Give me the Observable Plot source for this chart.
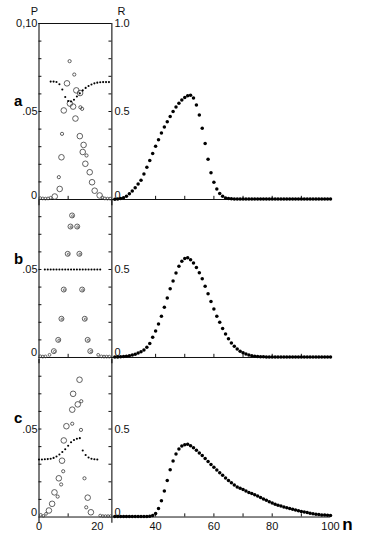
<!DOCTYPE html>
<html><head><meta charset="utf-8">
<script src="https://cdn.jsdelivr.net/npm/d3@7"></script>
<script src="https://cdn.jsdelivr.net/npm/@observablehq/plot@0.6"></script>
<style>
html,body{margin:0;padding:0;background:#fff;}
#chart{position:relative;width:370px;height:539px;overflow:hidden;font-family:"Liberation Sans",Arial,sans-serif;}
</style></head><body><div id="chart"></div>
<script>
// ---------- data ----------
// n values for the R(n) curves (right panels)
const nR = d3.range(26, 101);

const rA = [0.002,0.003,0.006,0.010,0.018,
  0.032,0.048,0.067,0.088,0.110,
  0.145,0.183,0.222,0.262,0.302,
  0.340,0.378,0.412,0.442,0.472,
  0.500,0.525,0.547,0.565,0.580,
  0.590,0.592,0.577,0.537,0.480,
  0.405,0.318,0.228,0.152,0.098,
  0.060,0.034,0.018,0.009,0.005,
  0.004,0.003,0.003,0.003,0.003,
  0.003,0.003,0.003,0.003,0.003,
  0.003,0.003,0.003,0.003,0.003,
  0.003,0.003,0.003,0.003,0.003,
  0.003,0.003,0.003,0.003,0.003,
  0.003,0.003,0.003,0.003,0.003,
  0.003,0.003,0.003,0.003,0.003];

const rB = [0.003,0.003,0.004,0.005,0.007,
  0.010,0.014,0.019,0.025,0.033,
  0.043,0.058,0.080,0.115,0.150,
  0.190,0.235,0.285,0.338,0.390,
  0.435,0.480,0.518,0.547,0.562,
  0.567,0.555,0.537,0.512,0.482,
  0.447,0.405,0.362,0.318,0.275,
  0.235,0.200,0.165,0.133,0.106,
  0.083,0.064,0.048,0.036,0.027,
  0.020,0.014,0.010,0.007,0.005,
  0.004,0.004,0.003,0.003,0.003,
  0.003,0.003,0.003,0.003,0.003,
  0.003,0.003,0.003,0.003,0.003,
  0.003,0.003,0.003,0.003,0.003,
  0.003,0.003,0.003,0.003,0.003];

const rC = [0.003,0.003,0.003,0.003,0.003,
  0.003,0.003,0.003,0.003,0.003,
  0.003,0.003,0.004,0.008,0.020,
  0.048,0.092,0.148,0.208,0.268,
  0.318,0.358,0.386,0.403,0.411,
  0.413,0.405,0.393,0.379,0.364,
  0.349,0.333,0.316,0.299,0.283,
  0.267,0.252,0.237,0.222,0.208,
  0.195,0.182,0.171,0.163,0.156,
  0.148,0.140,0.133,0.126,0.119,
  0.111,0.103,0.095,0.087,0.079,
  0.073,0.067,0.062,0.057,0.053,
  0.048,0.044,0.040,0.036,0.032,
  0.028,0.025,0.022,0.019,0.016,
  0.014,0.012,0.011,0.010,0.009];

// left panels: small filled dots [n, P]
const dotsA = [[4,0.0670],[5,0.0670],[6,0.0668],[7,0.0655],[8,0.0625],[9,0.0582],[10,0.0560],
  [11,0.0557],[12,0.0567],[13,0.0585],[14,0.0603],[15,0.0620],[16,0.0634],[17,0.0645],
  [18,0.0653],[19,0.0660],[20,0.0664],[21,0.0666],[22,0.0667],[23,0.0667],[24,0.0667]];
const dotsB = [[2,0.05],[3,0.05],[4,0.05],[5,0.05],[6,0.05],[7,0.05],[8,0.05],[9,0.05],[10,0.05],
  [11,0.05],[12,0.05],[13,0.05],[14,0.05],[15,0.05],[16,0.05],[17,0.05],[18,0.05],[19,0.05],[20,0.05],[21,0.05]];
const dotsC = [[0,0.0327],[1,0.0327],[2,0.0328],[3,0.0329],[4,0.0331],[5,0.0336],[6,0.0344],
  [7,0.0355],[8,0.0369],[9,0.0385],[10,0.0405],[11,0.0425],[12,0.0438],[13,0.0445],[14,0.0448],
  [15,0.0378],[16,0.0352],[17,0.0338],[18,0.0331],[19,0.0328],[20,0.0327]];

// left panels: open circles, large and small [n, P]
const bigA = [[9.6,0.0660],[12.8,0.0620],[14.1,0.0605],[10.6,0.0545],[8.5,0.0506],[11.7,0.0528],
  [12.5,0.0460],[14.0,0.0360],[15.3,0.0310],[15.0,0.0270],[7.7,0.0240],[15.9,0.0203],[17.4,0.0155],
  [18.2,0.0098],[7.1,0.0060],[19.1,0.0050],[5.4,0.0017],[20.8,0.0023]];
const smallA = [[10.5,0.0786],[12.1,0.0710],[14.2,0.0524],[14.8,0.0515],[7.9,0.0373],[16.3,0.0250],
  [6.8,0.0127]];
const edgeA = [[0.4,0.0008],[1.3,0.0006],[2.2,0.0005],[3.1,0.0006],[4.0,0.0010],[21.7,0.0012],
  [22.6,0.0006],[23.5,0.0005],[24.4,0.0005]];

const ringB = [[11.35,0.0807],[10.8,0.0744],[13.1,0.0744],[9.85,0.0589],[13.85,0.0589],[8.5,0.0386],
  [14.8,0.0386],[7.7,0.0220],[15.7,0.0220],[6.6,0.0100],[16.7,0.0100],[5.1,0.0036],[17.6,0.0036]];
const edgeB = [[0.4,0.0007],[1.3,0.0005],[2.2,0.0006],[3.6,0.0015],[20.3,0.0015],[21.4,0.0006],
  [22.3,0.0005],[23.2,0.0005],[24.1,0.0005]];

const bigC = [[13.9,0.0780],[11.7,0.0700],[13.3,0.0640],[11.4,0.0610],[9.4,0.0516],[8.5,0.0435],
  [7.9,0.0320],[6.8,0.0220],[5.3,0.0140],[4.5,0.0075],[16.7,0.0110],[3.4,0.0037],[17.8,0.0027]];
const smallC = [[14.5,0.0658],[11.4,0.0530],[14.4,0.0495],[8.3,0.0260],[7.6,0.0185],[15.6,0.0220],
  [6.4,0.0116],[16.2,0.0055]];
const edgeC = [[0.6,0.0012],[1.5,0.0006],[2.4,0.0018],[21.0,0.0008],[21.9,0.0005],[22.8,0.0005],
  [23.7,0.0005],[24.6,0.0005]];

// axes
const pFull = 0.10;            // P value at the top of the frame (R = 1.0)
const rAxisN = 25;             // n where the R axis stands
const pMinor = [0.01,0.02,0.03,0.04,0.05,0.06,0.07,0.08,0.09,0.10];
const rMinor = [0.1,0.2,0.3,0.4,0.5,0.6,0.7,0.8,0.9,1.0];
const pLabelVals = [0.05, 0.10];
const pLabelText = [".05", "0,10"];
const rLabelVals = [0.5, 1.0];
const rLabelText = ["0.5", "1.0"];
const nTicksUp = [10, 40, 50, 60, 70, 80, 90];
const xLabelVals = [0, 20, 40, 60, 80, 100];
const rowLetters = ["a", "b", "c"];

// ---------- drawing ----------
const W = 370, PX_PER_R = 176;
const rows = [
  {letter: rowLetters[0], top: 1.0,   svgTop: 0,   mt: 23, mb: 10,   R: rA, dots: dotsA, big: bigA, small: smallA, ring: [], edge: edgeA, first: true,  last: false},
  {letter: rowLetters[1], top: 0.892, svgTop: 198, mt: 2,  mb: 10,   R: rB, dots: dotsB, big: [],   small: [],     ring: ringB, edge: edgeB, first: false, last: false},
  {letter: rowLetters[2], top: 0.895, svgTop: 357, mt: 2,  mb: 22.5, R: rC, dots: dotsC, big: bigC, small: smallC, ring: [], edge: edgeC, first: false, last: true}
];

const py = d => d[1] / pFull;
const chart = document.getElementById("chart");

for (const cfg of rows) {
  const inner = cfg.top * PX_PER_R;
  const pTicks = pMinor.filter(p => p / pFull <= cfg.top + 1e-9);
  const rTicks = rMinor.filter(r => r <= cfg.top + 1e-9);
  const pLab = pLabelVals.map((v, i) => ({v, t: pLabelText[i]})).filter(d => d.v / pFull <= cfg.top + 1e-9);
  const rLab = rLabelVals.map((v, i) => ({v, t: rLabelText[i]})).filter(d => d.v <= cfg.top + 1e-9);
  const ink = "#111";
  const circ = "#444";
  const marks = [
    // frame / axes
    Plot.ruleY([0], {x1: 0, x2: 100, stroke: ink, strokeWidth: 1}),
    Plot.ruleX([0, rAxisN], {y1: -0.035, y2: cfg.top, stroke: ink, strokeWidth: 1.1}),
    cfg.first ? Plot.ruleY([1], {x1: 0, x2: rAxisN, stroke: ink, strokeWidth: 1}) : null,
    Plot.ruleY(pTicks, {y: d => d / pFull, x1: 0, x2: 1.0, stroke: ink, strokeWidth: 1}),
    Plot.ruleY(rTicks, {y: d => d, x1: rAxisN - 1.0, x2: rAxisN, stroke: ink, strokeWidth: 1}),
    Plot.ruleX(nTicksUp, {y1: 0, y2: 0.018, stroke: ink, strokeWidth: 1}),
    // tick labels
    Plot.text(["0"], {x: () => 0, y: () => 0, dx: -2, dy: -1, textAnchor: "end", lineAnchor: "bottom", fontSize: 11, fill: ink}),
    Plot.text(pLab, {x: () => 0, y: d => d.v / pFull, text: "t", dx: -1.5, textAnchor: "end", lineAnchor: "middle", fontSize: 11, fill: ink}),
    Plot.text(["0"], {x: () => rAxisN, y: () => 0, dx: 2.5, dy: -1, textAnchor: "start", lineAnchor: "bottom", fontSize: 11, fill: ink}),
    Plot.text(rLab, {x: () => rAxisN, y: d => d.v, text: "t", dx: 2.5, textAnchor: "start", lineAnchor: "middle", fontSize: 11, fill: ink}),
    cfg.first ? Plot.text(["P"], {x: () => 0, y: () => 1, dx: -4.5, dy: -12, fontSize: 11, fill: ink}) : null,
    cfg.first ? Plot.text(["R"], {x: () => rAxisN, y: () => 1, dx: 9.5, dy: -12, fontSize: 11, fill: ink}) : null,
    Plot.text([cfg.letter], {frameAnchor: "left", y: () => 0.56, dx: -25, fontSize: 15, fontWeight: "bold", fill: "#000"}),
    cfg.last ? Plot.text(xLabelVals, {x: d => d, y: () => 0, dy: 9.5, lineAnchor: "middle", fontSize: 11, fill: ink}) : null,
    cfg.last ? Plot.text(["n"], {x: () => 100, y: () => 0, dx: 17, dy: 7.5, lineAnchor: "middle", fontSize: 17, fontWeight: "bold", fill: "#000"}) : null,
    // left panel data
    Plot.dot(cfg.edge, {x: d => d[0], y: py, r: 1.4, stroke: circ, strokeWidth: 0.8, fill: "none"}),
    Plot.dot(cfg.big, {x: d => d[0], y: py, r: 2.8, stroke: circ, strokeWidth: 0.85, fill: "none"}),
    Plot.dot(cfg.small, {x: d => d[0], y: py, r: 1.6, stroke: circ, strokeWidth: 0.85, fill: "none"}),
    Plot.dot(cfg.ring, {x: d => d[0], y: py, r: 2.5, stroke: circ, strokeWidth: 0.85, fill: "none"}),
    Plot.dot(cfg.ring, {x: d => d[0], y: py, r: 1.1, dx: 0.6, dy: 0.4, stroke: circ, strokeWidth: 0.7, fill: "none"}),
    Plot.dot(cfg.dots, {x: d => d[0], y: py, r: 1.05, fill: "#000", stroke: "none"}),
    // right panel data
    Plot.dot(cfg.R, {x: (d, i) => nR[i], y: d => d, r: 1.75, fill: "#000", stroke: "none"})
  ].filter(Boolean);

  const svg = Plot.plot({
    width: W,
    height: cfg.mt + inner + cfg.mb,
    marginLeft: 38.5,
    marginRight: 40,
    marginTop: cfg.mt,
    marginBottom: cfg.mb,
    x: {domain: [0, 100], axis: null},
    y: {domain: [0, cfg.top], axis: null},
    style: {position: "absolute", left: "0px", top: cfg.svgTop + "px", background: "transparent",
            overflow: "visible", fontFamily: "'Liberation Sans', Arial, sans-serif", color: "#111"},
    marks
  });
  chart.appendChild(svg);
}
</script></body></html>
